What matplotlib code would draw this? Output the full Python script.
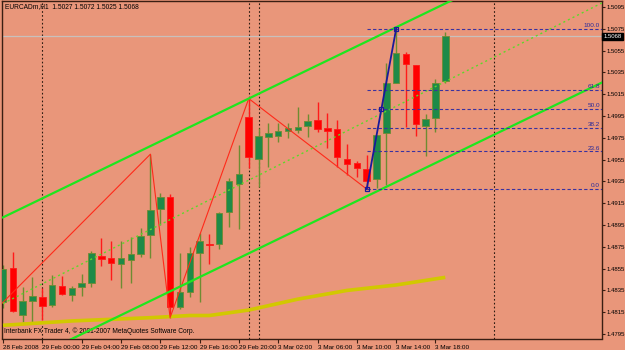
import matplotlib.pyplot as plt

# EURCADm H1 bars (index 0 = 28 Feb 20:00)
opens = [1.4824, 1.4856, 1.4812, 1.4825, 1.4829, 1.4822, 1.4839, 1.4831, 1.4838, 1.4842,
         1.4867, 1.4865, 1.4859, 1.4863, 1.4868, 1.4886, 1.4910, 1.4921, 1.4820, 1.4834,
         1.4869, 1.4878, 1.4878, 1.4907, 1.4933, 1.4994, 1.4956, 1.4976, 1.4977, 1.4981,
         1.4982, 1.4986, 1.4991, 1.4984, 1.4983, 1.4956, 1.4952, 1.4946, 1.4937, 1.4979,
         1.5025, 1.5052, 1.5042, 1.4986, 1.4993, 1.5027]
highs = [1.4858, 1.4870, 1.4838, 1.4847, 1.4837, 1.4849, 1.4848, 1.4839, 1.4850, 1.4871,
         1.4883, 1.4880, 1.4880, 1.4884, 1.4892, 1.4960, 1.4924, 1.4923, 1.4869, 1.4875,
         1.4888, 1.4887, 1.4907, 1.4938, 1.4968, 1.5011, 1.4984, 1.4989, 1.4989, 1.4989,
         1.5003, 1.4997, 1.5008, 1.4998, 1.4991, 1.4969, 1.4954, 1.4959, 1.4978, 1.5044,
         1.5075, 1.5054, 1.5042, 1.4997, 1.5029, 1.5072]
lows = [1.4819, 1.4815, 1.4806, 1.4805, 1.4808, 1.4820, 1.4831, 1.4825, 1.4830, 1.4838,
        1.4857, 1.4845, 1.4837, 1.4842, 1.4866, 1.4865, 1.4895, 1.4810, 1.4818, 1.4829,
        1.4824, 1.4859, 1.4873, 1.4893, 1.4891, 1.4947, 1.4930, 1.4948, 1.4971, 1.4975,
        1.4979, 1.4976, 1.4980, 1.4966, 1.4948, 1.4941, 1.4939, 1.4928, 1.4929, 1.4932,
        1.5025, 1.4985, 1.4977, 1.4958, 1.4980, 1.5025]
closes = [1.4855, 1.4816, 1.4825, 1.4830, 1.4821, 1.4840, 1.4832, 1.4837, 1.4842, 1.4869,
          1.4864, 1.4860, 1.4865, 1.4868, 1.4885, 1.4909, 1.4921, 1.4820, 1.4834, 1.4869,
          1.4880, 1.4877, 1.4906, 1.4935, 1.4942, 1.4957, 1.4977, 1.4979, 1.4981, 1.4984,
          1.4985, 1.4990, 1.4983, 1.4981, 1.4957, 1.4951, 1.4947, 1.4935, 1.4978, 1.5025,
          1.5053, 1.5043, 1.4988, 1.4992, 1.5025, 1.5068]

# moving average (yellow)
ma_bars = [0, 7, 15, 19, 21, 25, 30, 35, 40, 45]
ma_vals = [1.4803, 1.4807, 1.4810, 1.4812, 1.4812, 1.4817, 1.4827, 1.4835, 1.4840, 1.4847]

# zigzag
zz_bars = [-2, 15, 17, 25, 37]
zz_vals = [1.4806, 1.4960, 1.4810, 1.5011, 1.4928]

# channel
ch_bars = [0, 61]
ch_upper = [1.4902, 1.5168]
ch_lower = [1.4760, 1.5026]
ch_mid = [1.4823, 1.5099]

# fibo
fib_start, fib_end = 37, 40
fib_low, fib_high = 1.4928, 1.5075
fib_levels = [0.0, 23.6, 38.2, 50.0, 61.8, 100.0]

separators = [4, 25, 26, 50]
tick_bars = [0, 4, 8, 12, 16, 20, 24, 28, 32, 36, 40, 44]
tick_labels = ['28 Feb 2008', '29 Feb 00:00', '29 Feb 04:00', '29 Feb 08:00', '29 Feb 12:00',
               '29 Feb 16:00', '29 Feb 20:00', '3 Mar 02:00', '3 Mar 06:00', '3 Mar 10:00',
               '3 Mar 14:00', '3 Mar 18:00']
price_ticks = [1.4795, 1.4815, 1.4835, 1.4855, 1.4875, 1.4895, 1.4915, 1.4935, 1.4955,
               1.4975, 1.4995, 1.5015, 1.5035, 1.5055, 1.5075, 1.5095]
bid = 1.5068

bg = '#E9967A'
dark = '#3A1E12'
plt.rcParams['font.family'] = ['Liberation Sans', 'DejaVu Sans']
fs = 4.6
yfs = 4.3

fig = plt.figure(figsize=(6.25, 3.5), dpi=100, facecolor=bg)
ax = fig.add_axes([2 / 625, 11.5 / 350, 600 / 625, 337.5 / 350])
ax.set_facecolor(bg)
ax.set_xlim(-0.1, 60.94)
ax.set_ylim(1.47909, 1.51005)

for s in ax.spines.values():
    s.set_color(dark)
    s.set_linewidth(1)

# separators and bid line
for k in separators:
    ax.axvline(k, color='#2A1A10', lw=0.8, ls=(0, (1.5, 2)), zorder=1)
ax.axhline(bid, color='#C8C0BC', lw=0.9, zorder=1)

# candles
for i in range(len(opens)):
    o, h, l, c = opens[i], highs[i], lows[i], closes[i]
    if c >= o:
        body, edge = '#1E8A48', '#6E8C32'
    else:
        body, edge = '#FF0000', '#FF1A1A'
    ax.vlines(i, l, h, color=edge, lw=1, zorder=2)
    hgt = abs(c - o)
    if hgt < 0.00004:
        ax.hlines(o, i - 0.33, i + 0.33, color=edge, lw=1, zorder=3)
    else:
        ax.bar(i, hgt, bottom=min(o, c), width=0.66, color=body, edgecolor=edge,
               lw=0.6, zorder=3)

# indicators
ax.plot(ma_bars, ma_vals, color='#D2C800', lw=2.6, zorder=4, solid_capstyle='butt')
ax.plot(zz_bars, zz_vals, color='#FF2A1A', lw=0.8, zorder=5)
ax.plot(ch_bars, ch_upper, color='#1EE61E', lw=1.6, zorder=5)
ax.plot(ch_bars, ch_lower, color='#1EE61E', lw=1.6, zorder=5)
ax.plot(ch_bars, ch_mid, color='#5ED82A', lw=1.0, ls=(0, (1.5, 2.2)), zorder=5)

# fibonacci
for lev in fib_levels:
    p = fib_low + (fib_high - fib_low) * lev / 100
    ax.hlines(p, fib_start, 60.94, color='#3A32A0', lw=0.8, ls=(0, (3, 2)), zorder=5)
    ax.text(60.75, p + 0.00005, '%.1f' % lev, color='#2A2A9A', fontsize=fs, ha='right',
            va='bottom', zorder=6)
ax.plot([fib_start, fib_end], [fib_low, fib_high], color='#1A1A9A', lw=1.3, zorder=6)
ax.plot([fib_start, (fib_start + fib_end) / 2, fib_end],
        [fib_low, (fib_low + fib_high) / 2, fib_high], ls='none', marker='s', ms=3.2,
        mfc='none', mec='#1A1A9A', mew=0.9, zorder=7)

# axes
ax.yaxis.tick_right()
ax.set_yticks(price_ticks)
ax.set_yticklabels(['%.4f' % p for p in price_ticks])
ax.set_xticks(tick_bars)
ax.set_xticklabels(tick_labels, ha='left')
ax.tick_params(axis='x', colors=dark, labelcolor='black', labelsize=fs, length=3,
               width=0.8, pad=1.5)
ax.tick_params(axis='y', colors=dark, labelcolor='black', labelsize=yfs, length=2.5,
               width=0.8, pad=0.8)

ax.text(0.005, 0.993, 'EURCADm,H1  1.5027 1.5072 1.5025 1.5068', transform=ax.transAxes,
        fontsize=4.8, color='black', ha='left', va='top')
ax.text(0.004, 0.01, 'Interbank FX Trader 4, \u00a9 2001-2007 MetaQuotes Software Corp.',
        transform=ax.transAxes, fontsize=4.8, color='black', ha='left', va='bottom')

ax.annotate('%.4f' % bid, xy=(1.0, bid), xycoords=('axes fraction', 'data'),
            xytext=(1.2, 0), textcoords='offset points', fontsize=yfs, color='white',
            ha='left', va='center',
            bbox=dict(boxstyle='square,pad=0.2', fc='black', ec='black'))

fig.savefig('out.png', dpi=100, facecolor=bg)
